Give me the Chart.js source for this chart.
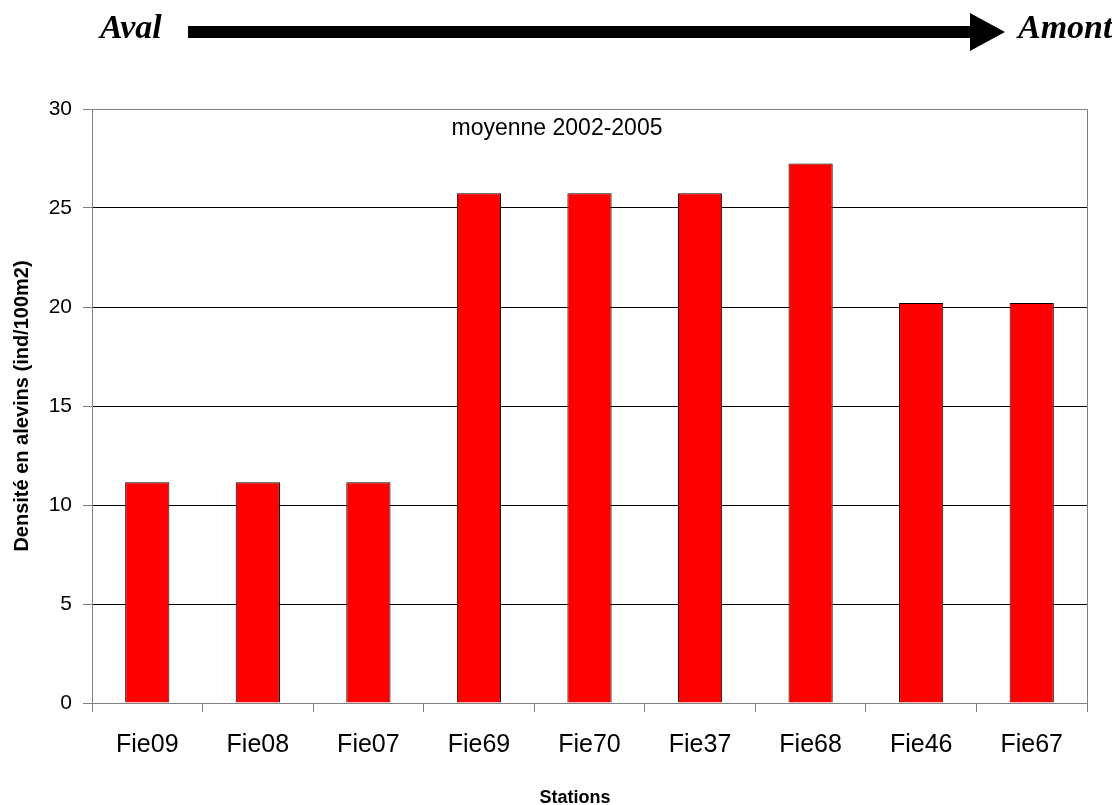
<!DOCTYPE html>
<html>
<head>
<meta charset="utf-8">
<script src="https://cdn.jsdelivr.net/npm/chart.js@4"></script>
<style>
  body { margin: 0; background: #fff; }
  canvas { display: block; }
</style>
</head>
<body>
<canvas id="densite" width="1112" height="805"></canvas>
<script>
// densité moyenne d'alevins par station (aval -> amont)
const stations = ['Fie09', 'Fie08', 'Fie07', 'Fie69', 'Fie70', 'Fie37', 'Fie68', 'Fie46', 'Fie67'];
const densites = [11.15, 11.15, 11.15, 25.75, 25.75, 25.75, 27.25, 20.2, 20.2];
const yTicks = [0, 5, 10, 15, 20, 25, 30];

const GRIS = '#808080';
const POLICE = 'Arial, "Liberation Sans", sans-serif';

// titre interne, flèche aval/amont, titre de l'axe x et cadre du graphique
const decorPlugin = {
    id: 'decor',
    afterDraw(chart) {
        const ctx = chart.ctx;
        const area = chart.chartArea;
        ctx.save();

        // cadre haut + droite
        ctx.strokeStyle = GRIS;
        ctx.lineWidth = 1;
        ctx.beginPath();
        ctx.moveTo(area.left, area.top + 0.5);
        ctx.lineTo(area.right + 0.5, area.top + 0.5);
        ctx.lineTo(area.right + 0.5, area.bottom);
        ctx.stroke();

        ctx.fillStyle = '#000';
        ctx.textAlign = 'center';
        ctx.textBaseline = 'alphabetic';

        ctx.font = '23px ' + POLICE;
        ctx.fillText('moyenne 2002-2005', 557, 135);

        ctx.font = 'bold 18px ' + POLICE;
        ctx.fillText('Stations', 575, 803);

        // flèche
        ctx.fillRect(188, 26, 782, 12);
        ctx.beginPath();
        ctx.moveTo(970, 13);
        ctx.lineTo(1005, 32);
        ctx.lineTo(970, 51);
        ctx.closePath();
        ctx.fill();

        ctx.font = 'italic bold 34px "Liberation Serif", "Times New Roman", serif';
        ctx.textAlign = 'left';
        ctx.fillText('Aval', 100, 38);
        ctx.fillText('Amont', 1018, 38);
        ctx.restore();
    }
};

new Chart(document.getElementById('densite'), {
    type: 'bar',
    data: {
        labels: stations,
        datasets: [{
            data: densites,
            backgroundColor: '#FF0000',
            borderColor: '#000000',
            borderWidth: 1,
            categoryPercentage: 1,
            barPercentage: 0.4
        }]
    },
    options: {
        responsive: false,
        animation: false,
        layout: { padding: { top: 109, right: 25, bottom: 0, left: 0 } },
        plugins: {
            legend: { display: false },
            tooltip: { enabled: false }
        },
        scales: {
            x: {
                afterFit: (scale) => { scale.height = 102; },
                grid: {
                    offset: true,
                    drawOnChartArea: false,
                    drawTicks: true,
                    tickLength: 9,
                    color: GRIS
                },
                border: { color: GRIS },
                ticks: {
                    color: '#000',
                    padding: 18,
                    maxRotation: 0,
                    font: { family: POLICE, size: 25 }
                }
            },
            y: {
                min: 0,
                max: 30,
                afterFit: (scale) => { scale.width = 92; },
                afterBuildTicks: (scale) => { scale.ticks = yTicks.map(v => ({ value: v })); },
                grid: {
                    color: (c) => (c.tick && (c.tick.value === 0 || c.tick.value === 30)) ? GRIS : '#000',
                    tickColor: GRIS,
                    tickLength: 9,
                    lineWidth: 1
                },
                border: { color: GRIS },
                ticks: {
                    color: '#000',
                    padding: 11,
                    font: { family: POLICE, size: 21 }
                },
                title: {
                    display: true,
                    text: 'Densité en alevins (ind/100m2)',
                    color: '#000',
                    padding: { top: 10, bottom: 0 },
                    font: { family: POLICE, size: 20, weight: 'bold', lineHeight: 1.2 }
                }
            }
        }
    },
    plugins: [decorPlugin]
});
</script>
</body>
</html>
